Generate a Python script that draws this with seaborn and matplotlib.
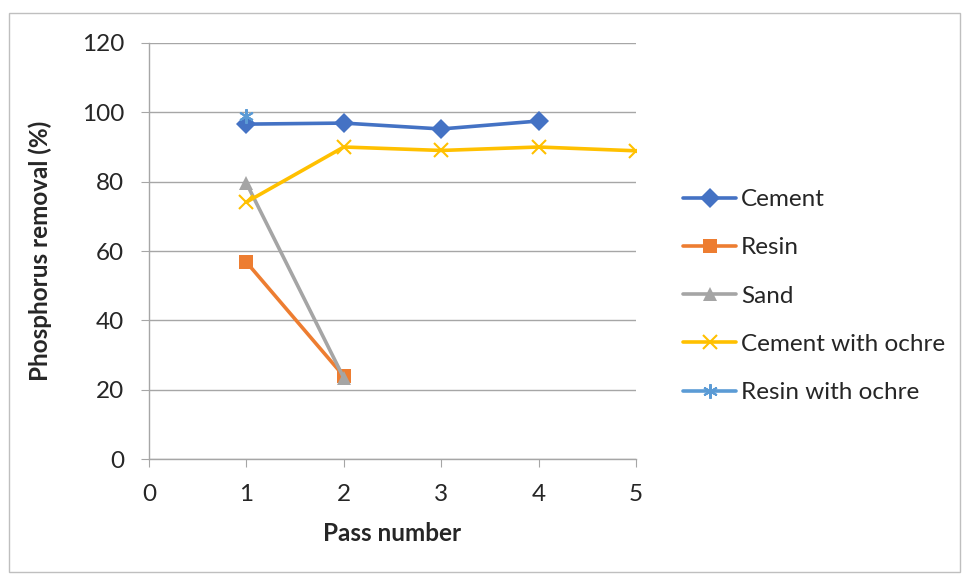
import pandas as pd
import matplotlib.pyplot as plt
import seaborn as sns
from matplotlib.patches import Rectangle

# data
series_names = ['Cement', 'Resin', 'Sand', 'Cement with ochre', 'Resin with ochre']
cement_x = [1, 2, 3, 4]
cement_y = [96.6, 96.9, 95.2, 97.5]
resin_x = [1, 2]
resin_y = [56.8, 23.9]
sand_x = [1, 2]
sand_y = [79.6, 23.4]
ochre_cement_x = [1, 2, 3, 4, 5]
ochre_cement_y = [74.1, 90.0, 89.0, 90.0, 88.9]
ochre_resin_x = [1]
ochre_resin_y = [98.9]

colors = ['#4472C4', '#ED7D31', '#A5A5A5', '#FFC000', '#5B9BD5']
markers = ['D', 's', '^', 'x', (6, 2, 0)]

frames = []
for name, xs, ys in zip(series_names,
                        [cement_x, resin_x, sand_x, ochre_cement_x, ochre_resin_x],
                        [cement_y, resin_y, sand_y, ochre_cement_y, ochre_resin_y]):
    frames.append(pd.DataFrame({'Pass number': xs, 'Removal': ys, 'Material': name}))
df = pd.concat(frames, ignore_index=True)

sns.set_style('white')
plt.rcParams['font.family'] = ['Lato', 'DejaVu Sans']
fs = 17.5

fig = plt.figure(figsize=(9.63, 5.74), dpi=100)
ax = fig.add_axes([0.1547, 0.2003, 0.5057, 0.7248])

for name, col, mk in zip(series_names, colors, markers):
    sub = df[df['Material'] == name]
    mew = 1.5 if mk in ('x', (6, 2, 0)) else 0
    sns.lineplot(data=sub, x='Pass number', y='Removal', ax=ax, color=col,
                 marker=mk, markersize=10.5, markeredgewidth=mew,
                 markeredgecolor=col, linewidth=2.6, label=name)

ax.set_xlim(0, 5)
ax.set_ylim(0, 120)
ax.set_xticks(range(0, 6))
ax.set_yticks(range(0, 121, 20))
ax.grid(axis='y', color='#a6a6a6', linewidth=1)
ax.set_axisbelow(True)
for s in ['top', 'right']:
    ax.spines[s].set_visible(False)
for s in ['left', 'bottom']:
    ax.spines[s].set_color('#a6a6a6')
    ax.spines[s].set_linewidth(1)
ax.tick_params(axis='both', direction='out', length=6, color='#a6a6a6',
               labelsize=fs, bottom=True, left=True)
ax.tick_params(axis='y', pad=12)
ax.tick_params(axis='x', pad=12)

ax.set_xlabel('Pass number', fontsize=fs, fontweight='bold')
ax.set_ylabel('Phosphorus removal (%)', fontsize=fs, fontweight='bold')
ax.xaxis.set_label_coords(0.5, -0.152)
ax.yaxis.set_label_coords(-0.2, 0.5)

ax.legend(loc='center left', bbox_to_anchor=(0.709, 0.484),
          bbox_transform=fig.transFigure, frameon=False, fontsize=fs,
          handlelength=2.2, handletextpad=0.2, labelspacing=1.12,
          borderpad=0, borderaxespad=0)

# outer chart border
fig.patches.append(Rectangle((0.0094, 0.004), 0.988, 0.973, transform=fig.transFigure,
                             fill=False, edgecolor='#bfbfbf', linewidth=1))

plt.savefig('out.png', dpi=100)
